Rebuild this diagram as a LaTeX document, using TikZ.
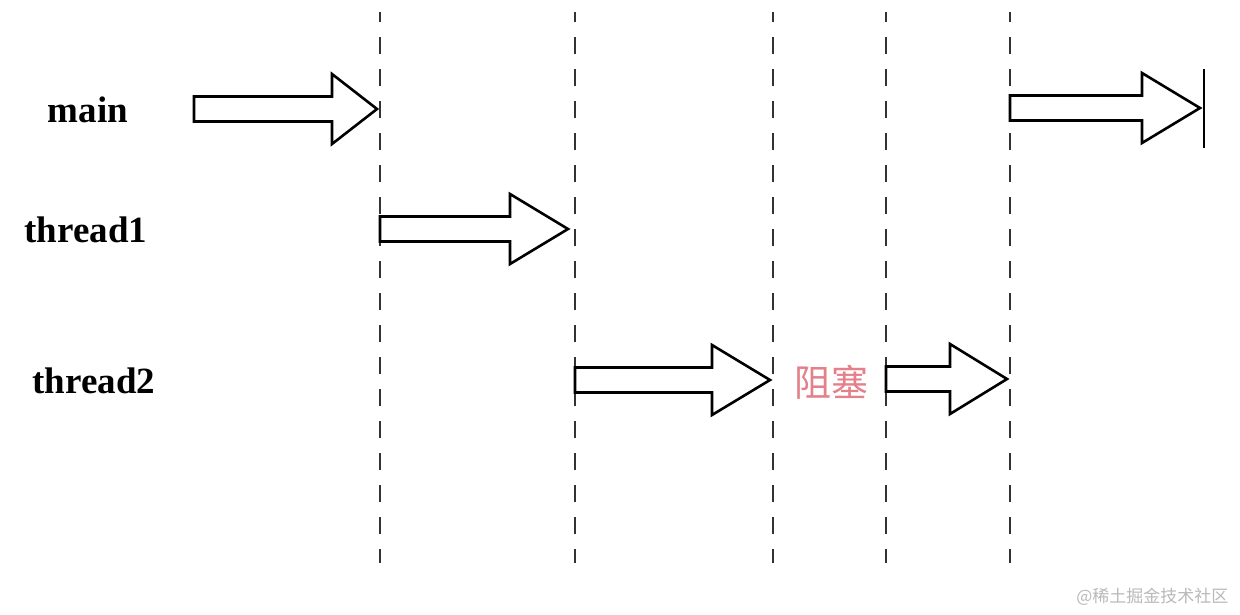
\documentclass[tikz,border=0pt]{standalone}
\usepackage{fontspec}
\setmainfont{Liberation Serif}
\newfontfamily\cjk{Noto Sans CJK SC}
\usetikzlibrary{positioning}
\definecolor{blockpink}{RGB}{228,128,138}
\definecolor{markgray}{RGB}{185,185,185}

% fat arrow: name, left x, head base x, tip x, centre y
\newcommand{\fatarrow}[5]{%
  \draw[fat] (#2,#5-12.5) -- (#3,#5-12.5) -- (#3,#5-35) -- (#4,#5)
    -- (#3,#5+35) -- (#3,#5+12.5) -- (#2,#5+12.5) -- cycle;
  \coordinate (#1) at (#4,#5);}

\begin{document}
\begin{tikzpicture}[x=1pt,y=-1pt]

\tikzset{lane/.style = {font=\fontsize{37}{42}\selectfont\bfseries}}
\tikzset{fat/.style = {draw=black,line width=2.6pt,line join=miter,fill=white}}
\tikzset{cut/.style = {draw=black!80,line width=2pt,dash pattern=on 17pt off 15pt,dash phase=7pt}}
\useasboundingbox (0,0) rectangle (1240,614);
\fill[white] (0,0) rectangle (1240,614);

% time lines
\foreach \x in {380,575,773,886,1010}
  \draw[cut] (\x,12) -- (\x,563);

% lanes
\node[lane] (main) at (88,110) {main};
\node[lane] (t1) at (86,230) {thread1};
\node[lane] (t2) at (94,381) {thread2};

% arrows
\fatarrow{mainA}{194}{332}{377}{109}
\fatarrow{tA}{380}{510}{568}{229}
\fatarrow{tB}{575}{712}{770}{380}
\fatarrow{tC}{886}{950}{1007}{379}
\fatarrow{mainB}{1010}{1142}{1200}{108}
\coordinate (endtop) at (1204,69);
\coordinate (endbot) at (1204,148);
\draw[line width=2.6pt] (endtop) -- (endbot);

% blocked
\node[text=blockpink,font=\cjk\fontsize{37}{42}\selectfont] (block) at (831,382) {阻塞};

\node[text=markgray,font=\cjk\fontsize{17}{20}\selectfont,anchor=east] (mark) at (1232,597) {@稀土掘金技术社区};
\end{tikzpicture}
\end{document}
